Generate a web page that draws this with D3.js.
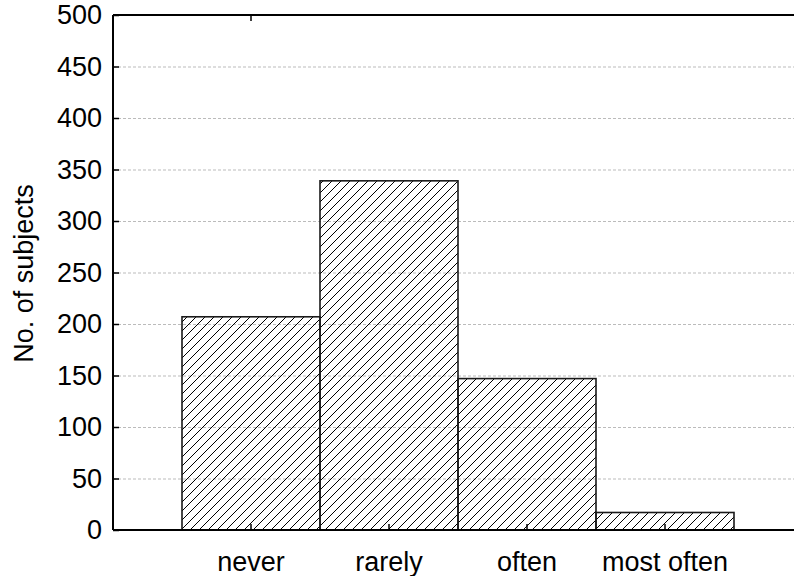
<!DOCTYPE html>
<html><head><meta charset="utf-8">
<script src="https://cdn.jsdelivr.net/npm/d3@7"></script>
<style>body{margin:0;background:#fff}svg{display:block}text{font-family:"Liberation Sans",Arial,sans-serif}</style>
</head><body><svg id="c" width="794" height="576"></svg>
<script>
const categories = ["never", "rarely", "often", "most often"];
const values = [207, 339, 147, 17];
const yTicks = [0, 50, 100, 150, 200, 250, 300, 350, 400, 450, 500];
const yLabel = "No. of subjects";

const svg = d3.select("#c");
const L = 113, R = 794, T = 15, B = 530;
const FS = 27;
const x = d3.scaleBand().domain(categories).range([182, 734]).padding(0);
const y = d3.scaleLinear().domain([0, 500]).range([B, T]);

const defs = svg.append("defs");
const pat = defs.append("pattern").attr("id", "hatch").attr("patternUnits", "userSpaceOnUse")
  .attr("width", 9).attr("height", 9);
pat.append("path").attr("d", "M-2,2 L2,-2 M0,9 L9,0 M7,11 L11,7").attr("stroke", "#000").attr("stroke-width", 1);

// grid
svg.append("g").selectAll("line").data(yTicks.filter(d => d > 0 && d < 500)).join("line")
  .attr("x1", L).attr("x2", R).attr("y1", d => y(d) + 0.5).attr("y2", d => y(d) + 0.5)
  .attr("stroke", "#bbb").attr("stroke-width", 1).attr("stroke-dasharray", "3,2");

// bars
svg.append("g").selectAll("rect").data(values).join("rect")
  .attr("x", (d, i) => x(categories[i]))
  .attr("y", d => y(d))
  .attr("width", x.bandwidth())
  .attr("height", d => B - y(d))
  .attr("fill", "url(#hatch)")
  .attr("stroke", "#1a1a1a").attr("stroke-width", 1.6);

// axes lines
svg.append("line").attr("x1", L).attr("x2", R).attr("y1", B).attr("y2", B).attr("stroke", "#000").attr("stroke-width", 2);
svg.append("line").attr("x1", L).attr("x2", R).attr("y1", T).attr("y2", T).attr("stroke", "#000").attr("stroke-width", 2);
svg.append("line").attr("x1", L).attr("x2", L).attr("y1", T).attr("y2", B).attr("stroke", "#000").attr("stroke-width", 2);

// y ticks
const yAxis = svg.append("g").attr("transform", `translate(${L},0)`)
  .call(d3.axisLeft(y).tickValues(yTicks).tickSize(-6).tickPadding(11));
yAxis.select(".domain").remove();
yAxis.selectAll(".tick line").attr("stroke", "#000").attr("stroke-width", 1.5);
yAxis.selectAll(".tick text").attr("font-size", FS).attr("fill", "#000")
  .attr("font-family", '"Liberation Sans",Arial,sans-serif');

// x ticks (bottom, inward)
const xAxis = svg.append("g").attr("transform", `translate(0,${B})`)
  .call(d3.axisBottom(x).tickSize(-6).tickPadding(22));
xAxis.select(".domain").remove();
xAxis.selectAll(".tick line").attr("stroke", "#000").attr("stroke-width", 1.5);
xAxis.selectAll(".tick text").attr("font-size", FS).attr("fill", "#000")
  .attr("font-family", '"Liberation Sans",Arial,sans-serif');

// top tick at first category
const xTop = svg.append("g").attr("transform", `translate(0,${T})`)
  .call(d3.axisTop(x).tickValues([categories[0]]).tickSize(-6).tickFormat(""));
xTop.select(".domain").remove();
xTop.selectAll(".tick line").attr("stroke", "#000").attr("stroke-width", 1.5);

// y label
svg.append("text").attr("transform", `translate(33,${(T + B) / 2 + 1}) rotate(-90)`)
  .attr("text-anchor", "middle").attr("font-size", FS).attr("fill", "#000").text(yLabel);
</script></body></html>
